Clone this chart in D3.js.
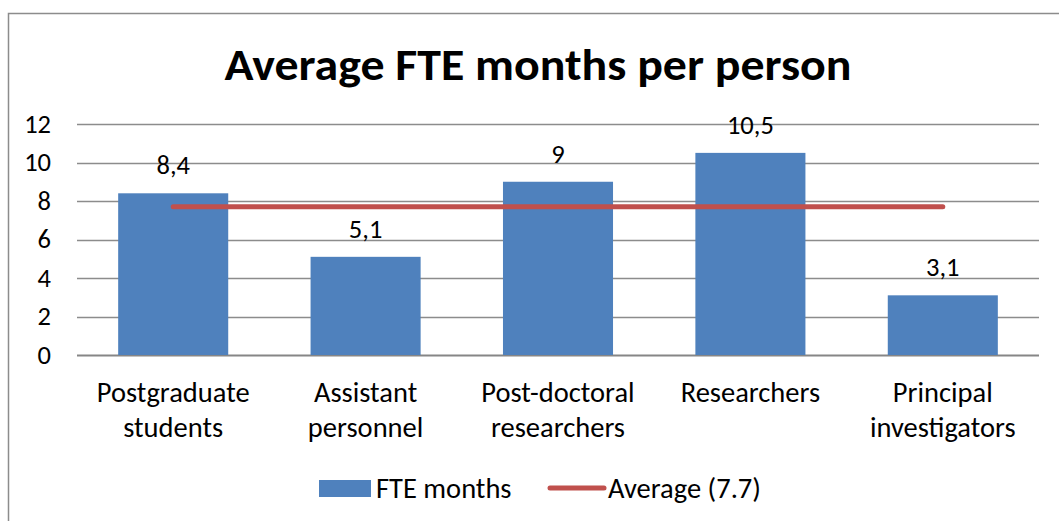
<!DOCTYPE html>
<html>
<head>
<meta charset="utf-8">
<script src="https://cdn.jsdelivr.net/npm/d3@7"></script>
<style>
  body { margin: 0; background: #fff; }
  svg { display: block; font-family: Carlito, Lato, sans-serif; }
</style>
</head>
<body>
<div id="chart"></div>
<script>
// chart data
const categories = ["Postgraduate students", "Assistant personnel", "Post-doctoral researchers", "Researchers", "Principal investigators"];
const categoryLines = [["Postgraduate", "students"], ["Assistant", "personnel"], ["Post-doctoral", "researchers"], ["Researchers"], ["Principal", "investigators"]];
const fteMonths = [8.4, 5.1, 9, 10.5, 3.1];
const fteLabels = ["8,4", "5,1", "9", "10,5", "3,1"];
const average = 7.7;
const yTicks = [0, 2, 4, 6, 8, 10, 12];

const width = 1059, height = 521;
const svg = d3.select("#chart").append("svg")
    .attr("width", width)
    .attr("height", height);

// outer chart border (goes off the right/bottom edge)
svg.append("rect")
    .attr("x", 8.5).attr("y", 13.5)
    .attr("width", 1080).attr("height", 540)
    .attr("fill", "none")
    .attr("stroke", "#8c8c8c")
    .attr("stroke-width", 1.5);

svg.append("text")
    .attr("x", 538).attr("y", 80)
    .attr("text-anchor", "middle")
    .attr("font-size", 45)
    .attr("font-weight", "bold")
    .attr("textLength", 627)
    .attr("lengthAdjust", "spacingAndGlyphs")
    .text("Average FTE months per person");

const x = d3.scaleBand()
    .domain(categories)
    .range([77, 1039])
    .paddingInner(0.428)
    .paddingOuter(0.214);

const y = d3.scaleLinear()
    .domain([0, 12])
    .range([355, 124]);

// gridlines
svg.append("g")
    .selectAll("line")
    .data(yTicks)
    .join("line")
    .attr("x1", 77).attr("x2", 1039)
    .attr("y1", d => Math.round(y(d)) + 0.5)
    .attr("y2", d => Math.round(y(d)) + 0.5)
    .attr("stroke", d => d === 0 ? "#868686" : "#8c8c8c")
    .attr("stroke-width", d => d === 0 ? 2 : 1.5);

// y axis labels
const yAxis = d3.axisLeft(y).tickValues(yTicks).tickSize(0).tickPadding(0);
const yg = svg.append("g")
    .attr("transform", "translate(51,0)")
    .call(yAxis);
yg.select(".domain").remove();
yg.selectAll("text")
    .attr("font-size", 26.5)
    .attr("font-family", "Carlito, Lato, sans-serif")
    .attr("fill", "#000");

// bars
svg.append("g")
    .selectAll("rect")
    .data(fteMonths)
    .join("rect")
    .attr("x", (d, i) => x(categories[i]))
    .attr("y", d => y(d))
    .attr("width", x.bandwidth())
    .attr("height", d => y(0) - y(d))
    .attr("fill", "#4f81bd");

// average line, from first to last category centre
const cx = c => x(c) + x.bandwidth() / 2;
svg.append("line")
    .attr("x1", cx(categories[0]))
    .attr("x2", cx(categories[categories.length - 1]))
    .attr("y1", y(average)).attr("y2", y(average))
    .attr("stroke", "#c0504d")
    .attr("stroke-width", 5)
    .attr("stroke-linecap", "round");

// value labels
svg.append("g")
    .selectAll("text")
    .data(fteMonths)
    .join("text")
    .attr("x", (d, i) => cx(categories[i]))
    .attr("y", d => y(d) - 19)
    .attr("text-anchor", "middle")
    .attr("font-size", 26.5)
    .text((d, i) => fteLabels[i]);

// category labels
const cat = svg.append("g")
    .selectAll("text")
    .data(categories)
    .join("text")
    .attr("text-anchor", "middle")
    .attr("font-size", 28.5)
    .attr("y", 402);
cat.selectAll("tspan")
    .data((d, i) => categoryLines[i].map(t => ({ t, c: d })))
    .join("tspan")
    .attr("x", d => cx(d.c))
    .attr("dy", (d, j) => j === 0 ? 0 : 35)
    .text(d => d.t);

// legend
const lg = svg.append("g");
lg.append("rect")
    .attr("x", 319).attr("y", 480)
    .attr("width", 52).attr("height", 17)
    .attr("fill", "#4f81bd");
lg.append("text")
    .attr("x", 376).attr("y", 498)
    .attr("font-size", 28.5)
    .text("FTE months");
lg.append("line")
    .attr("x1", 550).attr("x2", 604)
    .attr("y1", 488).attr("y2", 488)
    .attr("stroke", "#c0504d")
    .attr("stroke-width", 5)
    .attr("stroke-linecap", "round");
lg.append("text")
    .attr("x", 608).attr("y", 498)
    .attr("font-size", 28.5)
    .text("Average (7.7)");
</script>
</body>
</html>
